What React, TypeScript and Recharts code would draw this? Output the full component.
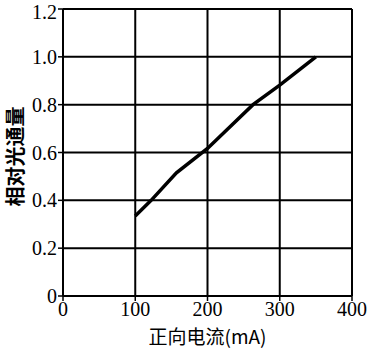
import React from 'react';
import { LineChart, Line, XAxis, YAxis, CartesianGrid, Label } from 'recharts';

const currentMa = [100, 122, 157, 200, 224, 263, 300, 350];
const relativeFlux = [0.335, 0.4, 0.515, 0.617, 0.687, 0.8, 0.882, 1.0];
const xTicks = [0, 100, 200, 300, 400];
const yTicks = [0, 0.2, 0.4, 0.6, 0.8, 1.0, 1.2];

const data = currentMa.map((x, i) => ({ x, y: relativeFlux[i] }));

const serif = '"Liberation Serif", "Times New Roman", serif';
const tickStyle = { fill: '#000', fontSize: 20, fontFamily: serif };

function YTitle(props: any) {
  const vb = props.viewBox || { x: 0, y: 0, width: 0, height: 0 };
  const cx = vb.x + 14;
  const cy = vb.y + vb.height / 2 + 4;
  return (
    <text
      x={cx}
      y={cy}
      transform={`rotate(-90 ${cx} ${cy})`}
      textAnchor="middle"
      dominantBaseline="central"
      fontSize={20}
      fontWeight={600}
      fontFamily='"Noto Sans CJK SC", sans-serif'
      fill="#000"
    >
      相对光通量
    </text>
  );
}

export default function App() {
  return (
    <div style={{ position: 'absolute', left: 0, top: 0, background: '#fff' }}>
      <LineChart
        width={369}
        height={350}
        data={data}
        margin={{ top: 9, right: 17, left: 0, bottom: 0 }}
      >
        <CartesianGrid stroke="#000" strokeWidth={2} />
        <XAxis
          dataKey="x"
          type="number"
          domain={[0, 400]}
          ticks={xTicks}
          height={54}
          tick={tickStyle}
          tickSize={5}
          tickMargin={1}
          axisLine={{ stroke: '#000', strokeWidth: 2 }}
          tickLine={{ stroke: '#000', strokeWidth: 1.5 }}
        >
          <Label
            value="正向电流(mA)"
            position="insideBottom"
            offset={6}
            style={{ fill: '#000', fontSize: 19, fontFamily: '"Noto Sans CJK SC", serif' }}
          />
        </XAxis>
        <YAxis
          type="number"
          domain={[0, 1.2]}
          ticks={yTicks}
          width={63}
          tick={tickStyle}
          tickSize={5}
          tickMargin={1}
          tickFormatter={(v: number) => (v === 0 ? '0' : v.toFixed(1))}
          axisLine={{ stroke: '#000', strokeWidth: 2 }}
          tickLine={{ stroke: '#000', strokeWidth: 1.5 }}
          label={<YTitle />}
        />
        <Line
          dataKey="y"
          stroke="#000"
          strokeWidth={3.5}
          dot={false}
          type="linear"
          isAnimationActive={false}
        />
      </LineChart>
    </div>
  );
}
